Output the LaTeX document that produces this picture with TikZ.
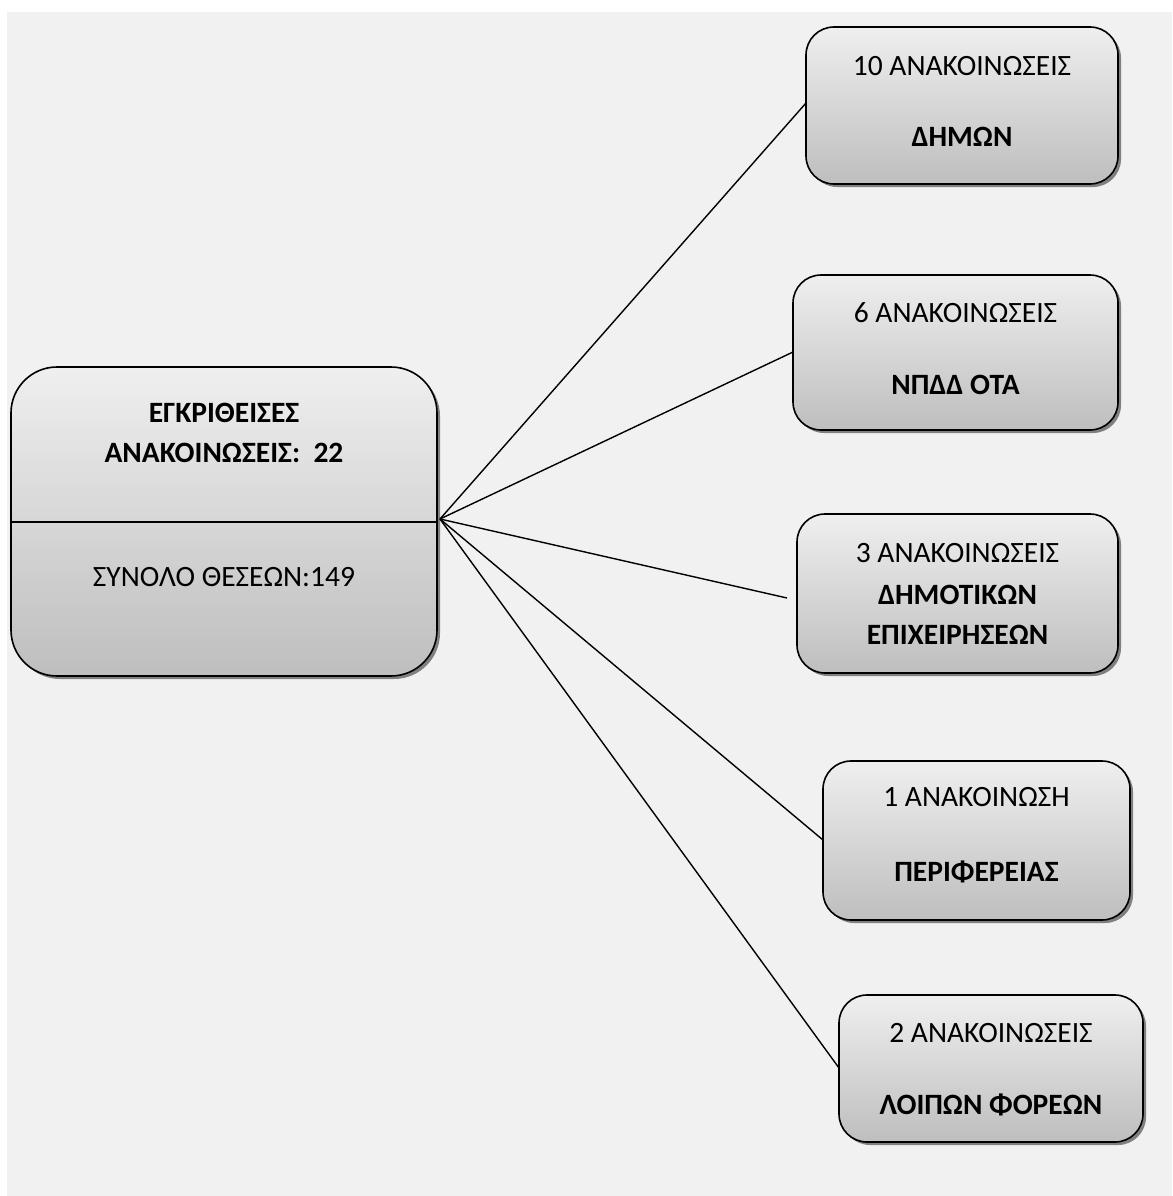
\documentclass[tikz,border=0pt]{standalone}
\usepackage{fontspec}
\setmainfont{Carlito}
\usetikzlibrary{shadows}
\definecolor{panel}{HTML}{F1F1F1}
\definecolor{boxtop}{HTML}{EFEFEF}
\definecolor{boxbot}{HTML}{BEBEBE}
\tikzset{
  boxshape/.style={draw=black, line width=1.6pt, top color=boxtop, bottom color=boxbot,
    inner sep=0pt, outer sep=0pt,
    general shadow={fill=black!50, shadow xshift=3pt, shadow yshift=-3pt}},
  bigbox/.style={boxshape, rounded corners=46pt, minimum width=426pt, minimum height=309pt},
  smallbox/.style={boxshape, rounded corners=28pt},
  txt/.style={inner sep=0pt, font=\fontsize{29.5}{34}\selectfont},
  btxt/.style={txt, font=\fontsize{29.5}{34}\selectfont\bfseries},
  conn/.style={line width=1.4pt, black}
}
\begin{document}
\begin{tikzpicture}[x=1pt, y=-1pt]
\useasboundingbox (0,0) rectangle (1172,1196);
\fill[white] (0,0) rectangle (1172,1196);
\fill[panel] (7,12) rectangle (1172,1196);

% main box
\node[bigbox] (main) at (224,521.5) {};
\draw[line width=1.6pt] (main.west |- 0,522) -- (main.east |- 0,522);
\node[btxt] (m1) at (224,413) {ΕΓΚΡΙΘΕΙΣΕΣ};
\node[btxt] (m2) at (224,453) {ΑΝΑΚΟΙΝΩΣΕΙΣ:\ \ 22};
\node[txt] (m3) at (224,577) {ΣΥΝΟΛΟ ΘΕΣΕΩΝ:149};

% right boxes
\node[smallbox, minimum width=312pt, minimum height=157pt] (b1) at (962,105.5) {};
\node[txt] (t1a) at (962,66) {10 ΑΝΑΚΟΙΝΩΣΕΙΣ};
\node[btxt] (t1b) at (962,137) {ΔΗΜΩΝ};

\node[smallbox, minimum width=325pt, minimum height=155pt] (b2) at (955.5,352.5) {};
\node[txt] (t2a) at (955.5,313) {6 ΑΝΑΚΟΙΝΩΣΕΙΣ};
\node[btxt] (t2b) at (955.5,385) {ΝΠΔΔ ΟΤΑ};

\node[smallbox, minimum width=321pt, minimum height=159pt] (b3) at (957.5,593.5) {};
\node[txt] (t3a) at (957.5,553) {3 ΑΝΑΚΟΙΝΩΣΕΙΣ};
\node[btxt] (t3b) at (957.5,595) {ΔΗΜΟΤΙΚΩΝ};
\node[btxt] (t3c) at (957.5,635) {ΕΠΙΧΕΙΡΗΣΕΩΝ};

\node[smallbox, minimum width=307pt, minimum height=159pt] (b4) at (976.5,840.5) {};
\node[txt] (t4a) at (976.5,797) {1 ΑΝΑΚΟΙΝΩΣΗ};
\node[btxt] (t4b) at (976.5,872) {ΠΕΡΙΦΕΡΕΙΑΣ};

\node[smallbox, minimum width=304pt, minimum height=147pt] (b5) at (991,1068.5) {};
\node[txt] (t5a) at (991,1033) {2 ΑΝΑΚΟΙΝΩΣΕΙΣ};
\node[btxt] (t5b) at (991,1105) {ΛΟΙΠΩΝ ΦΟΡΕΩΝ};

% connectors
\coordinate (hub) at (440,519);
\coordinate (e3) at (787,598);
\draw[conn] (hub) -- (b1.west |- 0,103);
\draw[conn] (hub) -- (b2.west |- 0,352);
\draw[conn] (hub) -- (e3);
\draw[conn] (hub) -- (b4.west |- 0,840);
\draw[conn] (hub) -- (b5.west |- 0,1068);
\end{tikzpicture}
\end{document}
